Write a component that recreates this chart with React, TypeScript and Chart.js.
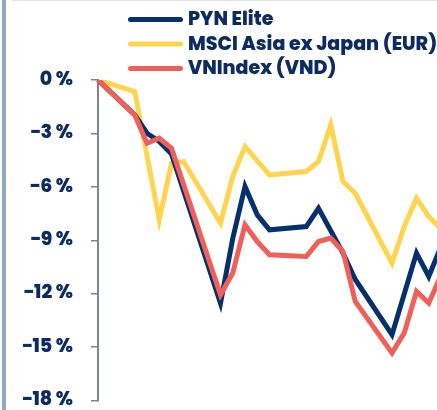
import React, { useEffect, useRef } from "react";
import { Chart, registerables } from "chart.js";

Chart.register(...registerables);

const LABELS = [
  "W1", "W2", "W3", "W4", "W5", "W6", "W7", "W8", "W9", "W10",
  "W11", "W12", "W13", "W14", "W15", "W16", "W17", "W18", "W19", "W20",
  "W21", "W22", "W23", "W24", "W25", "W26", "W27", "W28", "W29",
];

const SERIES_NAMES = ["PYN Elite", "MSCI Asia ex Japan (EUR)", "VNIndex (VND)"];

const PYN_ELITE = [
  0, null, null, -1.96, -2.99, -3.45, -4.15, null, null, null,
  -12.53, -8.9, -5.98, -7.57, -8.41, null, null, -8.23, -7.2, null,
  -9.72, -11.2, null, null, -14.3, null, -9.72, -11.03, -9.34,
];

const MSCI_ASIA = [
  0, null, null, -0.65, null, -7.85, -4.67, -4.58, null, null,
  -8.04, -5.42, -3.74, null, -5.33, null, null, -5.14, -4.58, -2.52,
  -5.7, -6.36, null, null, -10.28, -8.23, -6.64, -7.67, -8.36,
];

const VNINDEX = [
  0, null, null, -1.96, -3.55, -3.27, -3.83, null, null, null,
  -12.06, -10.84, -8.13, -9.07, -9.81, null, null, -9.91, -9.07, -8.88,
  -9.63, -12.43, null, null, -15.33, -14.2, -11.87, -12.52, -10.97,
];

const Y_MIN = -18;
const Y_MAX = 0;
const Y_STEP = 3;

const COLORS = ["#05306b", "#ffd54f", "#f0605a"];
const TEXT_COLOR = "#0c2b61";
const AXIS_COLOR = "#7b8597";
const FONT_FAMILY = "'Poppins', 'Open Sans', sans-serif";
const FONT_SIZE = 19;
const FONT_WEIGHT = 800;

const legendPlugin = {
  id: "customLegend",
  afterDraw(chart: any) {
    const ctx = chart.ctx;
    ctx.save();
    const rows = [19.5, 44, 68.5];
    chart.data.datasets.forEach((ds: any) => {
      const y = rows[ds.legendIndex];
      ctx.beginPath();
      ctx.lineCap = "round";
      ctx.lineWidth = 5;
      ctx.strokeStyle = ds.borderColor;
      ctx.moveTo(130.5, y);
      ctx.lineTo(180.5, y);
      ctx.stroke();
      ctx.fillStyle = TEXT_COLOR;
      ctx.font = FONT_WEIGHT + " " + FONT_SIZE + "px " + FONT_FAMILY;
      ctx.textBaseline = "middle";
      ctx.textAlign = "left";
      ctx.fillText(ds.label, 188, y + 1);
    });
    ctx.restore();
  },
};

export default function App() {
  const ref = useRef<HTMLCanvasElement | null>(null);

  useEffect(() => {
    if (!ref.current) return;
    const chart = new Chart(ref.current, {
      type: "line",
      data: {
        labels: LABELS,
        datasets: [
          {
            label: SERIES_NAMES[0],
            data: PYN_ELITE,
            borderColor: COLORS[0],
            order: 1,
            legendIndex: 0,
          } as any,
          {
            label: SERIES_NAMES[1],
            data: MSCI_ASIA,
            borderColor: COLORS[1],
            order: 2,
            legendIndex: 1,
          } as any,
          {
            label: SERIES_NAMES[2],
            data: VNINDEX,
            borderColor: COLORS[2],
            order: 0,
            legendIndex: 2,
          } as any,
        ].map((d) => ({
          ...d,
          borderWidth: 5,
          pointRadius: 0,
          tension: 0,
          spanGaps: true,
          fill: false,
          borderJoinStyle: "miter",
        })),
      },
      options: {
        responsive: false,
        animation: false,
        layout: { padding: { top: 80, bottom: 29, left: 0, right: 10 } },
        plugins: { legend: { display: false }, tooltip: { enabled: false } },
        scales: {
          x: { display: false },
          y: {
            min: Y_MIN,
            max: Y_MAX,
            afterFit: (scale: any) => {
              scale.width = 98;
            },
            ticks: {
              stepSize: Y_STEP,
              padding: 18,
              color: TEXT_COLOR,
              font: { family: FONT_FAMILY, size: FONT_SIZE, weight: FONT_WEIGHT },
              callback: (v: any) =>
                Number(v) === 0 ? "0 %" : "\u2212" + Math.abs(Number(v)) + " %",
            },
            grid: {
              drawOnChartArea: false,
              drawTicks: true,
              tickLength: 7,
              color: AXIS_COLOR,
              lineWidth: 1.5,
            },
            border: { display: true, color: AXIS_COLOR, width: 2 },
          },
        },
      } as any,
      plugins: [legendPlugin],
    });
    return () => chart.destroy();
  }, []);

  return (
    <div
      style={{
        position: "fixed",
        left: 0,
        top: 0,
        width: 437,
        height: 410,
        overflow: "hidden",
        background: "#ffffff",
      }}
    >
      <div
        style={{
          position: "absolute",
          left: 12,
          top: 0,
          right: 0,
          height: 1,
          background: "#dfe4ec",
        }}
      />
      <div
        style={{
          position: "absolute",
          left: 2,
          top: 0,
          width: 4,
          height: 410,
          background: "#93a9c6",
        }}
      />
      <canvas
        ref={ref}
        width={451}
        height={430}
        style={{ position: "absolute", left: 0, top: 0, width: 451, height: 430 }}
      />
    </div>
  );
}
